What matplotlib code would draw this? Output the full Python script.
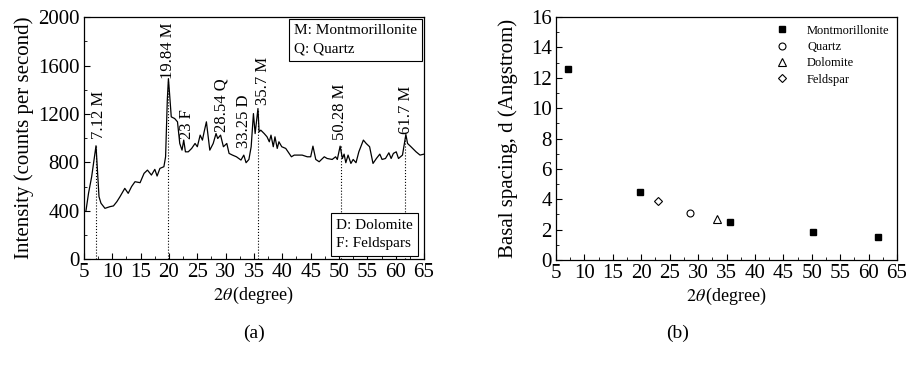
import matplotlib.pyplot as plt
from matplotlib.ticker import MultipleLocator

plt.rcParams['font.family'] = ['Liberation Serif', 'DejaVu Serif']
plt.rcParams['mathtext.fontset'] = 'stix'

# XRD pattern
two_theta = [5.35, 5.8, 6.35, 7.12, 7.65, 8.0, 8.7, 9.6, 10.2, 10.8, 11.35, 12.2, 12.8,
             13.4, 14.0, 14.9, 15.6, 16.2, 16.9, 17.5, 17.9, 18.4, 19.1, 19.4, 19.7,
             19.9, 20.1, 20.4, 21.0, 21.5, 21.9, 22.3, 22.6, 22.9, 23.4, 24.0, 24.6,
             25.0, 25.5, 25.9, 26.2, 26.6, 27.2, 27.8, 28.3, 28.6, 29.1, 29.6, 30.2,
             30.6, 31.2, 31.9, 32.7, 33.2, 33.6, 34.1, 34.5, 34.9, 35.2, 35.7, 35.9,
             36.2, 36.8, 37.3, 37.7, 38.0, 38.4, 38.7, 39.1, 39.4, 39.9, 40.6, 41.2,
             41.6, 42.1, 42.6, 43.5, 44.4, 45.0, 45.4, 45.9, 46.5, 47.4, 47.9, 48.8,
             49.4, 49.7, 50.2, 50.6, 50.9, 51.2, 51.6, 52.1, 52.5, 53.0, 53.5, 54.3,
             54.8, 55.4, 56.0, 56.6, 57.2, 57.6, 58.2, 58.8, 59.2, 59.6, 60.1, 60.5,
             61.2, 61.8, 62.1, 62.7, 63.6, 64.3, 65.0]
intensity = [400, 544, 680, 937, 516, 462, 420, 434, 440, 475, 516, 585, 544,
             600, 640, 632, 709, 736, 695, 742, 687, 750, 764, 846, 1313,
             1492, 1368, 1176, 1162, 1135, 956, 901, 984, 887, 887, 915, 956,
             929, 1025, 984, 1052, 1135, 901, 956, 1038, 997, 1025, 929, 956,
             874, 860, 846, 819, 860, 797, 824, 929, 1203, 1038, 1245, 1052,
             1066, 1038, 1011, 970, 1025, 929, 1011, 915, 970, 929, 915, 874,
             846, 860, 860, 860, 846, 846, 934, 824, 805, 846, 832, 824,
             846, 824, 934, 832, 868, 797, 860, 791, 824, 797, 887, 984,
             956, 929, 791, 832, 868, 824, 832, 879, 832, 874, 887, 832,
             860, 1030, 956, 929, 887, 860, 868]

# labelled peaks
peak_labels = ['7.12 M', '19.84 M', '23 F', '28.54 Q', '33.25 D', '35.7 M', '50.28 M', '61.7 M']
label_x = [7.65, 19.76, 23.1, 29.3, 33.2, 36.6, 50.2, 61.8]
label_y = [997, 1492, 997, 1052, 915, 1272, 984, 1038]
dotted_x = [7.12, 19.84, 35.7, 50.28, 61.7]
dotted_top = [937, 1492, 1245, 934, 1030]

# basal spacing
mont_x = [7.12, 19.84, 35.7, 50.28, 61.7]
mont_d = [12.6, 4.47, 2.5, 1.82, 1.5]
quartz_x = [28.54]
quartz_d = [3.12]
dolo_x = [33.25]
dolo_d = [2.7]
feld_x = [23.0]
feld_d = [3.86]

fig = plt.figure(figsize=(9.06, 3.65), dpi=100)
ax1 = fig.add_axes([0.0927, 0.290, 0.3753, 0.663])
ax2 = fig.add_axes([0.6137, 0.288, 0.3764, 0.665])

ax1.plot(two_theta, intensity, color='black', lw=0.9)
ax1.vlines(dotted_x, 0, dotted_top, colors='black', linestyles=':', lw=0.8)
for s, x, y in zip(peak_labels, label_x, label_y):
    ax1.text(x, y, s, rotation=90, ha='center', va='bottom', fontsize=12)

ax1.text(0.979, 0.971, 'M: Montmorillonite\nQ: Quartz', transform=ax1.transAxes,
         ha='right', va='top', multialignment='left', fontsize=11, linespacing=1.55,
         bbox=dict(boxstyle='square,pad=0.35', fc='white', ec='black', lw=0.8))
ax1.text(0.968, 0.037, 'D: Dolomite\nF: Feldspars', transform=ax1.transAxes,
         ha='right', va='bottom', multialignment='left', fontsize=11, linespacing=1.55,
         bbox=dict(boxstyle='square,pad=0.35', fc='white', ec='black', lw=0.8))

ax1.set_xlim(5, 65)
ax1.set_ylim(0, 2000)
ax1.xaxis.set_major_locator(MultipleLocator(5))
ax1.xaxis.set_minor_locator(MultipleLocator(2.5))
ax1.yaxis.set_major_locator(MultipleLocator(400))
ax1.yaxis.set_minor_locator(MultipleLocator(200))
ax1.set_ylabel('Intensity (counts per second)', fontsize=15, labelpad=3)
ax1.set_xlabel(r'$2\theta\,$(degree)', fontsize=13, labelpad=2)

ax2.plot(mont_x, mont_d, 's', color='black', ms=5, ls='none', label='Montmorillonite')
ax2.plot(quartz_x, quartz_d, 'o', mfc='white', mec='black', mew=0.8, ms=5, ls='none', label='Quartz')
ax2.plot(dolo_x, dolo_d, '^', mfc='white', mec='black', mew=0.8, ms=6, ls='none', label='Dolomite')
ax2.plot(feld_x, feld_d, 'D', mfc='white', mec='black', mew=0.8, ms=4.5, ls='none', label='Feldspar')
ax2.legend(loc='upper right', frameon=False, fontsize=9, handletextpad=1.0,
           borderaxespad=0.2, labelspacing=0.35)

ax2.set_xlim(5, 65)
ax2.set_ylim(0, 16)
ax2.xaxis.set_major_locator(MultipleLocator(5))
ax2.xaxis.set_minor_locator(MultipleLocator(2.5))
ax2.yaxis.set_major_locator(MultipleLocator(2))
ax2.yaxis.set_minor_locator(MultipleLocator(1))
ax2.set_ylabel('Basal spacing, d (Angstrom)', fontsize=15, labelpad=9)
ax2.set_xlabel(r'$2\theta\,$(degree)', fontsize=13, labelpad=2)

for ax in (ax1, ax2):
    ax.tick_params(which='both', direction='in', top=False, right=False, labelsize=15, pad=3)
    ax.tick_params(which='major', length=4)
    ax.tick_params(which='minor', length=2)
    for sp in ax.spines.values():
        sp.set_linewidth(0.9)

fig.text(0.280, 0.087, '(a)', ha='center', va='center', fontsize=14)
fig.text(0.748, 0.087, '(b)', ha='center', va='center', fontsize=14)

fig.savefig('out.png', dpi=100)
